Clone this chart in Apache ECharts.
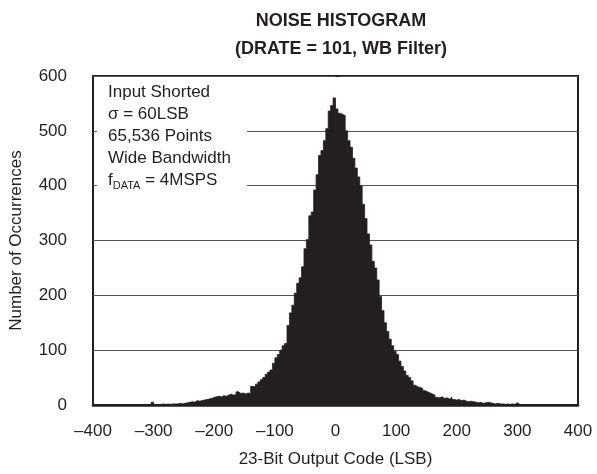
<!DOCTYPE html>
<html>
<head>
<meta charset="utf-8">
<script src="https://cdn.jsdelivr.net/npm/echarts@6/dist/echarts.min.js"></script>
<style>
  html, body { margin: 0; padding: 0; background: #fff; }
  #noise { width: 597px; height: 474px; }
</style>
</head>
<body>
<div id="noise"></div>
<script>
// histogram bins, 4 codes wide, starting at code -320
const binStart = -320;
const binWidth = 4;
const counts = [
  0, 0, 0, 0, 5, 1, 1, 1, 2, 1,
  2, 1, 2, 2, 2, 3, 2, 3, 4, 5,
  6, 5, 8, 7, 8, 9, 10, 11, 12, 14,
  15, 16, 15, 17, 16, 18, 20, 18, 19, 24,
  21, 22, 20, 22, 21, 34, 33, 38, 42, 46,
  50, 56, 60, 64, 76, 86, 92, 100, 108, 112,
  145, 168, 182, 204, 222, 232, 252, 285, 302, 345,
  352, 392, 420, 455, 464, 482, 504, 536, 546, 560,
  540, 532, 530, 528, 500, 482, 470, 450, 432, 416,
  400, 366, 340, 312, 292, 262, 250, 228, 198, 172,
  150, 134, 120, 108, 98, 92, 80, 70, 62, 54,
  50, 44, 36, 33, 32, 30, 26, 24, 22, 20,
  18, 14, 13, 15, 12, 13, 11, 14, 10, 9,
  10, 8, 9, 7, 6, 7, 6, 5, 4, 5,
  3, 4, 5, 4, 3, 2, 3, 2, 2, 1,
  2, 1, 2, 1, 4, 1, 0, 0, 0, 0
];

const xTicks = [-400, -300, -200, -100, 0, 100, 200, 300, 400];
const yTicks = [0, 100, 200, 300, 400, 500, 600];

const noteLines = [
  "Input Shorted",
  "σ = 60LSB",
  "65,536 Points",
  "Wide Bandwidth",
  "f{sub|DATA} = 4MSPS",
];

const ink = "#231f20";
const font = "'Liberation Sans', Arial, Helvetica, sans-serif";

const histData = counts.map((c, i) => [binStart + i * binWidth, c]);

const myChart = echarts.init(document.getElementById("noise"));

const option = {
  animation: false,
  backgroundColor: "#fff",
  title: {
    text: "NOISE HISTOGRAM\n(DRATE = 101, WB Filter)",
    left: 336,
    top: 2,
    textAlign: "center",
    textStyle: {
      fontFamily: font,
      fontSize: 18,
      fontWeight: "bold",
      color: ink,
      lineHeight: 28,
    },
  },
  grid: {
    left: 93,
    right: 19,
    top: 76,
    bottom: 69,
    show: true,
    borderColor: ink,
    borderWidth: 2,
  },
  xAxis: {
    type: "value",
    min: xTicks[0],
    max: xTicks[xTicks.length - 1],
    interval: 100,
    name: "23-Bit Output Code (LSB)",
    nameLocation: "middle",
    nameGap: 46,
    nameTextStyle: { fontFamily: font, fontSize: 17, color: ink },
    axisLine: { show: true, lineStyle: { color: ink, width: 2.5 } },
    axisTick: { show: false },
    splitLine: { show: false },
    axisLabel: {
      fontFamily: font,
      fontSize: 17,
      color: ink,
      margin: 18,
      formatter: (v) => String(v).replace("-", "\u2013"),
    },
  },
  yAxis: {
    type: "value",
    min: yTicks[0],
    max: yTicks[yTicks.length - 1],
    interval: 100,
    name: "Number of Occurrences",
    nameLocation: "middle",
    nameGap: 68,
    nameTextStyle: { fontFamily: font, fontSize: 17, color: ink },
    axisLine: { show: false },
    axisTick: { show: true, inside: true, length: 4, lineStyle: { color: ink } },
    splitLine: { show: true, lineStyle: { color: "#555", width: 1 } },
    axisLabel: { fontFamily: font, fontSize: 17, color: ink, margin: 26 },
  },
  graphic: [
    {
      type: "rect",
      left: 97,
      top: 78,
      shape: { width: 150, height: 115 },
      style: { fill: "#fff" },
      z: 10,
    },
    {
      type: "text",
      left: 108,
      top: 81,
      z: 11,
      style: {
        text: noteLines.join("\n"),
        fontFamily: font,
        fontSize: 17,
        lineHeight: 22,
        fill: ink,
        rich: {
          sub: { fontFamily: font, fontSize: 11, lineHeight: 22, verticalAlign: "bottom", padding: [8, 0, 0, 0] },
        },
      },
    },
  ],
  series: [
    {
      type: "line",
      step: "end",
      data: histData,
      showSymbol: false,
      lineStyle: { color: ink, width: 0.8 },
      areaStyle: { color: ink, opacity: 1 },
      z: 3,
    },
  ],
};

option && myChart.setOption(option);
</script>
</body>
</html>
